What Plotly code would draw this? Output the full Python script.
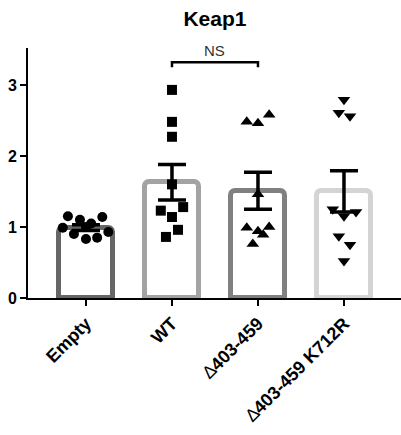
import plotly.graph_objects as go

categories = ["Empty", "WT", "∆403-459", "∆403-459 K712R"]
tick_labels = ["Empty", "WT",
               "<span style='font-weight:normal'>∆</span>403-459",
               "<span style='font-weight:normal'>∆</span>403-459 K712R"]
means = [0.99, 1.63, 1.51, 1.50]
sems = [0.04, 0.25, 0.26, 0.29]

vals_empty = [1.15, 1.10, 1.05, 1.14, 0.99, 0.90, 0.83, 0.85, 0.93, 1.00]
vals_wt = [2.93, 2.48, 2.27, 1.60, 1.23, 1.28, 1.14, 0.96, 0.86]
vals_del = [2.48, 2.46, 2.58, 1.46, 0.99, 0.94, 1.00, 0.89, 0.76]
vals_k712r = [2.79, 2.61, 2.56, 1.25, 1.15, 1.21, 0.87, 0.75, 0.52]

jit_empty = [-0.21, -0.07, 0.06, 0.19, -0.27, -0.14, 0.0, 0.13, 0.26, 0.0]
jit_wt = [0.0, 0.0, 0.0, 0.0, -0.13, 0.13, 0.0, 0.07, -0.07]
jit_del = [-0.13, 0.0, 0.13, 0.0, -0.13, 0.0, 0.13, 0.06, -0.06]
jit_k712r = [0.0, -0.06, 0.07, -0.13, 0.0, 0.14, -0.06, 0.07, 0.0]

bar_colors = ["#666666", "#a3a3a3", "#808080", "#d4d4d4"]
symbols = ["circle", "square", "triangle-up", "triangle-down"]
bracket_y = 3.32
bracket_drop = 0.07

FONT = "Liberation Sans, Arial, sans-serif"
xs = list(range(len(categories)))

fig = go.Figure()
fig.add_trace(go.Bar(
    x=xs, y=means, width=0.63,
    marker=dict(color="white", line=dict(color=bar_colors, width=5), cornerradius=5),
    showlegend=False, hoverinfo="skip"))

groups = [(vals_empty, jit_empty), (vals_wt, jit_wt), (vals_del, jit_del), (vals_k712r, jit_k712r)]
for i, (vals, jit) in enumerate(groups):
    fig.add_trace(go.Scatter(
        x=[i + j for j in jit], y=vals, mode="markers",
        marker=dict(symbol=symbols[i], color="black", size=10 if i < 2 else 11),
        showlegend=False, hoverinfo="skip"))

fig.add_trace(go.Scatter(
    x=xs, y=means, mode="markers",
    marker=dict(size=1, color="rgba(0,0,0,0)"),
    error_y=dict(type="data", array=sems, color="black", thickness=3.5, width=14),
    showlegend=False, hoverinfo="skip"))

# NS bracket between WT and ∆403-459
fig.add_shape(type="path",
              path=f"M 1 {bracket_y - bracket_drop} L 1 {bracket_y} L 2 {bracket_y} L 2 {bracket_y - bracket_drop}",
              line=dict(color="black", width=2.5), xref="x", yref="y")
fig.add_annotation(x=1.5, y=bracket_y, text="NS", showarrow=False, yanchor="bottom",
                   yshift=1, font=dict(family=FONT, size=15, color="#333333"))

fig.update_layout(
    width=401, height=435,
    margin=dict(l=28, r=0, t=48, b=137),
    paper_bgcolor="white", plot_bgcolor="white",
    title=dict(text="<b>Keap1</b>", x=0.536, xanchor="center", y=1 - 19 / 435, yanchor="middle",
               font=dict(family=FONT, size=21, color="black")),
    font=dict(family=FONT, color="black"),
    bargap=0,
)
fig.update_xaxes(
    range=[-0.674, 3.663], tickmode="array", tickvals=xs, ticktext=tick_labels,
    tickangle=-45, ticks="outside", ticklen=6, tickwidth=2, tickcolor="black",
    showline=True, linecolor="black", linewidth=2, showgrid=False, zeroline=False,
    tickfont=dict(family=FONT, size=18, color="black", weight="bold"))
fig.update_yaxes(
    range=[0, 3.52], tickvals=[0, 1, 2, 3], ticks="outside", ticklen=6, tickwidth=2,
    tickcolor="black", showline=True, linecolor="black", linewidth=2, showgrid=False,
    zeroline=False, tickfont=dict(family=FONT, size=16, color="black", weight="bold"))

fig.write_html("out.html")
